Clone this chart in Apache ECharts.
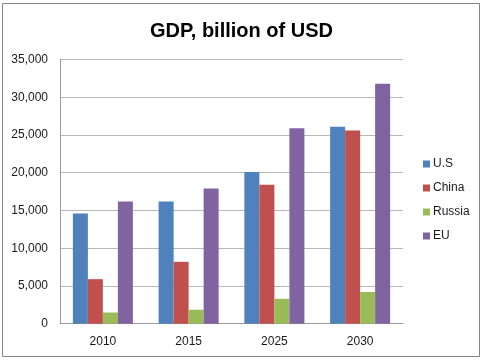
<!DOCTYPE html>
<html>
<head>
<meta charset="utf-8">
<script src="https://cdn.jsdelivr.net/npm/echarts@6/dist/echarts.min.js"></script>
<style>
html,body{margin:0;padding:0;background:#fff;}
#chart{width:483px;height:362px;}
</style>
</head>
<body>
<div id="chart"></div>
<script>
const categories = ['2010', '2015', '2025', '2030'];
const usValues = [14600, 16200, 20100, 26100];
const chinaValues = [5900, 8200, 18400, 25600];
const russiaValues = [1480, 1850, 3300, 4200];
const euValues = [16200, 17900, 25900, 31800];
const seriesNames = ['U.S', 'China', 'Russia', 'EU'];
const seriesColors = ['#4F81BD', '#C0504D', '#9BBB59', '#8064A2'];
const seriesData = [usValues, chinaValues, russiaValues, euValues];

const font = 'Liberation Sans';
const chart = echarts.init(document.getElementById('chart'), null, {renderer: 'canvas'});
chart.setOption({
  animation: false,
  backgroundColor: '#ffffff',
  title: {
    text: 'GDP, billion of USD',
    left: 'center',
    top: 20,
    padding: 0,
    textStyle: {fontFamily: font, fontSize: 20, fontWeight: 'bold', color: '#000', lineHeight: 22}
  },
  graphic: [{
    type: 'rect', silent: true,
    shape: {x: 2.5, y: 3.5, width: 477, height: 353},
    style: {fill: 'none', stroke: '#868686', lineWidth: 1}
  }],
  legend: {
    orient: 'vertical',
    left: 423,
    top: 157,
    padding: 0,
    itemWidth: 7,
    itemHeight: 7,
    itemGap: 10,
    icon: 'rect',
    textStyle: {fontFamily: font, fontSize: 12, color: '#1a1a1a', lineHeight: 14, padding: [0,0,0,-2]},
    data: seriesNames
  },
  grid: {left: 60, right: 80, top: 59.5, bottom: 38.3, containLabel: false},
  xAxis: {
    type: 'category',
    data: categories,
    axisLine: {lineStyle: {color: '#9a9a9a'}},
    axisTick: {show: false},
    axisLabel: {fontFamily: font, fontSize: 12, color: '#1a1a1a', margin: 12}
  },
  yAxis: {
    type: 'value',
    min: 0, max: 35000, interval: 5000,
    axisLine: {show: true, lineStyle: {color: '#9a9a9a'}},
    axisTick: {show: false},
    splitLine: {lineStyle: {color: '#b8b8b8'}},
    axisLabel: {fontFamily: font, fontSize: 12, color: '#1a1a1a', margin: 12,
      formatter: v => v.toLocaleString('en-US')}
  },
  series: seriesNames.map((n, i) => ({
    name: n,
    type: 'bar',
    data: seriesData[i],
    itemStyle: {color: seriesColors[i]},
    barGap: '0%',
    barCategoryGap: '30%'
  }))
});
</script>
</body>
</html>
